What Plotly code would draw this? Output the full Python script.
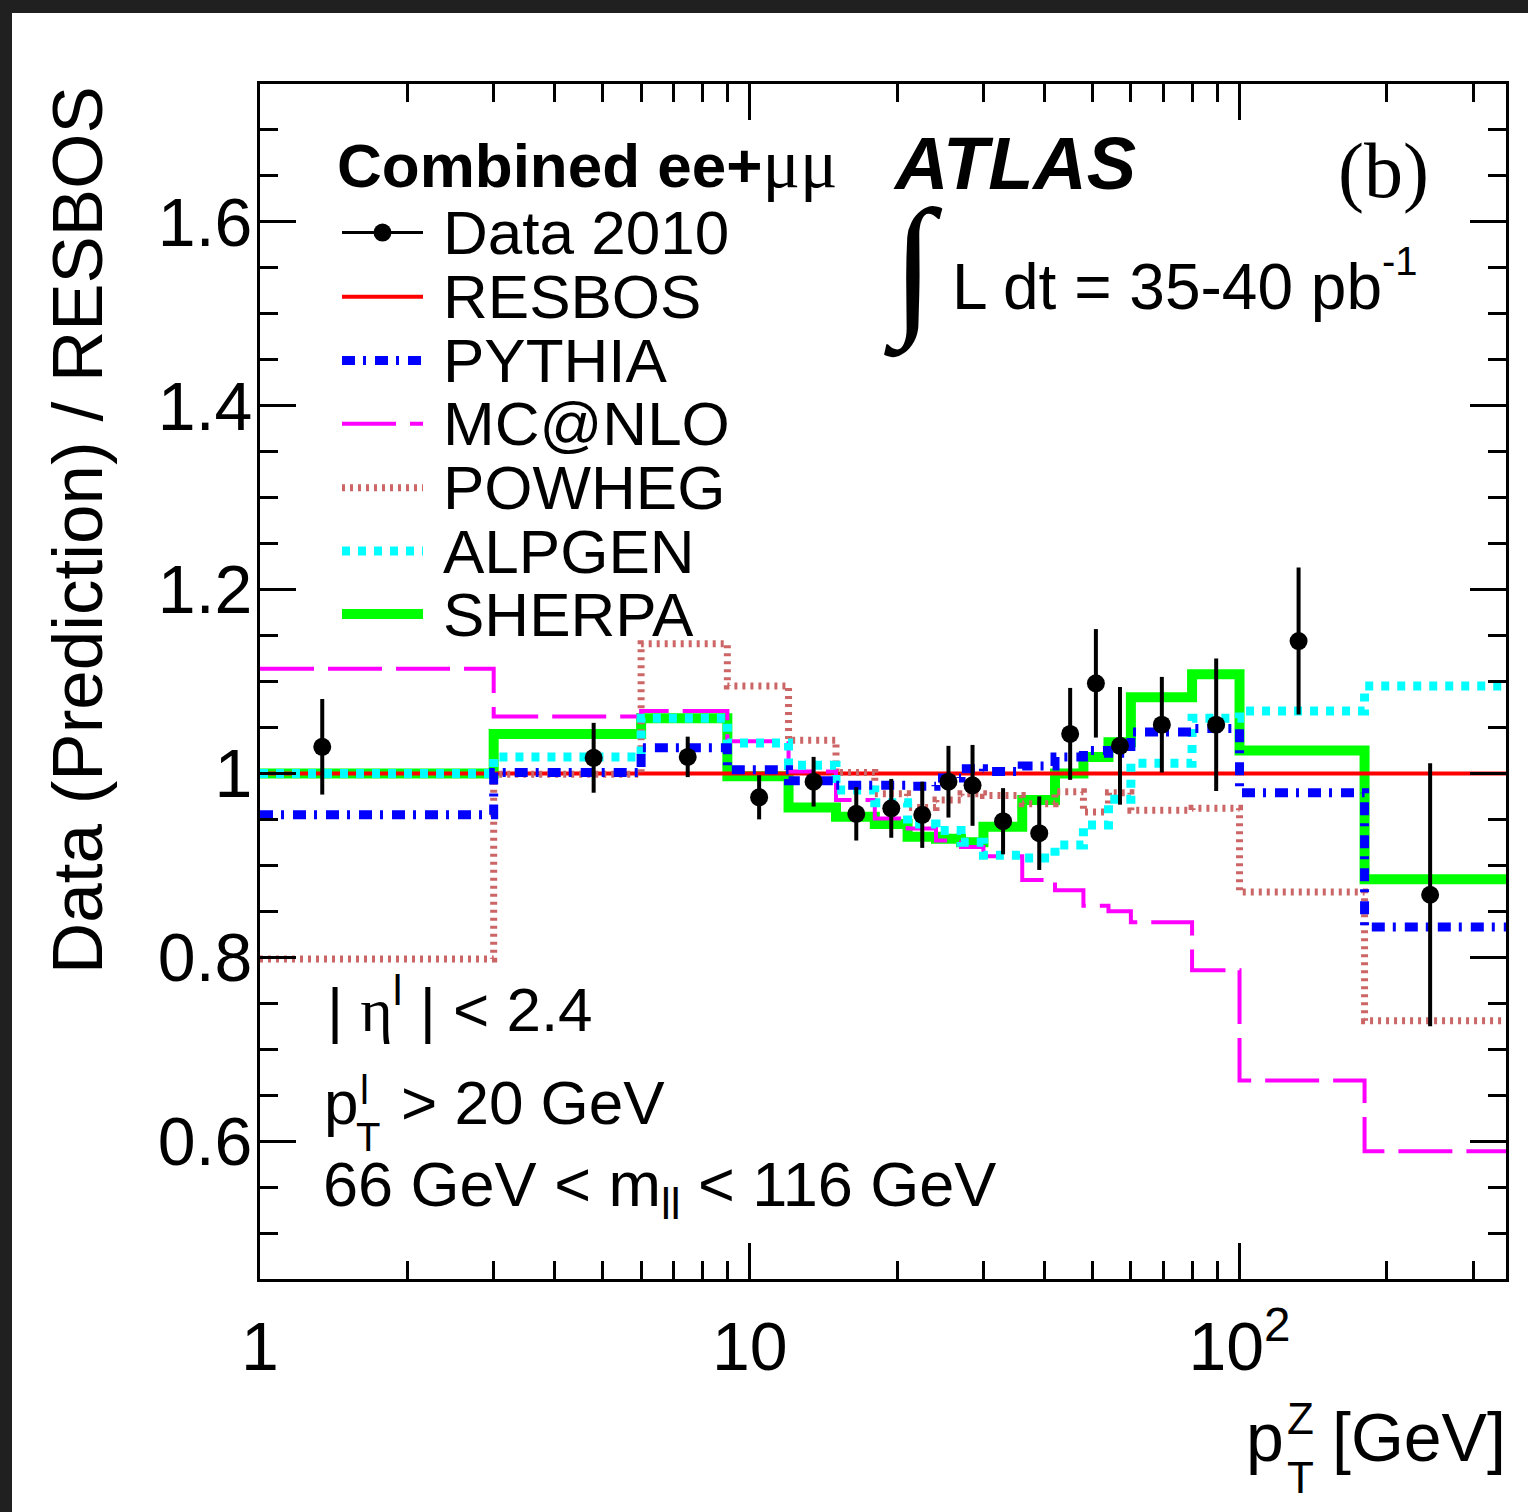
import math
import plotly.graph_objects as go

# ---------------------------------------------------------------------------
# Z-boson transverse momentum: ratio of predictions and data to RESBOS
# ---------------------------------------------------------------------------
bin_edges = [0, 3, 6, 9, 12, 15, 18, 21, 24, 27, 30, 36, 42, 48, 54, 60, 80, 100, 180, 350]

resbos = [1.0, 1.0, 1.0, 1.0, 1.0, 1.0, 1.0, 1.0, 1.0, 1.0,
          1.0, 1.0, 1.0, 1.0, 1.0, 1.0, 1.0, 1.0, 1.0]
pythia = [0.955, 1.001, 1.028, 1.004, 0.992, 0.987, 0.987, 0.986, 0.995, 1.005,
          1.002, 1.008, 1.018, 1.025, 1.022, 1.045, 1.049, 0.979, 0.833]
mcatnlo = [1.114, 1.062, 1.068, 1.035, 1.002, 0.971, 0.951, 0.940, 0.927, 0.920,
           0.910, 0.884, 0.873, 0.856, 0.850, 0.838, 0.786, 0.666, 0.589]
powheg = [0.798, 0.999, 1.141, 1.095, 1.036, 1.001, 0.978, 0.963, 0.971, 0.978,
          0.976, 0.967, 0.980, 0.958, 0.979, 0.960, 0.962, 0.871, 0.731]
alpgen = [1.000, 1.018, 1.060, 1.033, 1.009, 0.982, 0.968, 0.945, 0.938, 0.925,
          0.911, 0.908, 0.922, 0.944, 0.972, 1.011, 1.060, 1.068, 1.095]
sherpa = [1.000, 1.043, 1.060, 0.997, 0.963, 0.953, 0.945, 0.931, 0.929, 0.925,
          0.942, 0.971, 1.000, 1.018, 1.034, 1.083, 1.108, 1.025, 0.885]

data_pt = [1.34, 4.8, 7.47, 10.45, 13.5, 16.5, 19.45, 22.5, 25.45, 28.5,
           32.9, 39.0, 45.1, 50.9, 57.0, 69.4, 89.6, 132.0, 245.0]
data_ratio = [1.029, 1.017, 1.018, 0.974, 0.991, 0.956, 0.962, 0.955, 0.991, 0.987,
              0.948, 0.935, 1.043, 1.098, 1.030, 1.053, 1.053, 1.144, 0.868]
data_err = [0.052, 0.038, 0.022, 0.024, 0.027, 0.029, 0.032, 0.036, 0.039, 0.044,
            0.036, 0.040, 0.050, 0.059, 0.064, 0.052, 0.072, 0.080, 0.143]

x_range = [1, 350]
y_range = [0.45, 1.75]
y_tick_vals = [0.6, 0.8, 1.0, 1.2, 1.4, 1.6]
y_tick_text = ["0.6", "0.8", "1", "1.2", "1.4", "1.6"]
x_tick_vals = [1, 10, 100]
x_tick_text = ["1", "10", "10<sup>2</sup>"]
x_minor_vals = [2, 3, 4, 5, 6, 7, 8, 9, 20, 30, 40, 50, 60, 70, 80, 90, 200, 300]

# ---------------------------------------------------------------------------
W, H = 1528, 1512
L, R, T, B = 260, 1506, 84, 1279  # frame in page pixels
SANS = "Liberation Sans"
SERIF = "Liberation Serif"


def px(x):
    return (x - L) / (R - L)


def py(y):
    return (B - y) / (B - T)


# style of each prediction: (name, values, colour, width, dash)
models = [
    ("SHERPA", sherpa, "#00ff00", 10, "solid"),
    ("RESBOS", resbos, "#ff0000", 4, "solid"),
    ("POWHEG", powheg, "#cc6666", 7, "3px,5px"),
    ("MC@NLO", mcatnlo, "#ff00ff", 4, "54px,14px"),
    ("ALPGEN", alpgen, "#00ffff", 9, "8px,8px"),
    ("PYTHIA", pythia, "#0000ff", 9, "13px,8px,3px,9px"),
]

fig = go.Figure()

step_x = [max(e, x_range[0]) for e in bin_edges]
for name, vals, col, wid, dash in models:
    fig.add_trace(go.Scatter(
        x=step_x, y=list(vals) + [vals[-1]], mode="lines", line_shape="hv",
        line=dict(color=col, width=wid, dash=dash), name=name, hoverinfo="skip",
    ))

fig.add_trace(go.Scatter(
    x=data_pt, y=data_ratio, mode="markers", name="Data 2010",
    marker=dict(color="black", size=18, symbol="circle"),
    error_y=dict(type="data", array=data_err, visible=True,
                 color="black", thickness=4, width=0),
))

axis_common = dict(
    showline=True, linecolor="black", linewidth=3, mirror="allticks",
    ticks="inside", ticklen=36, tickwidth=2.5, tickcolor="black",
    showgrid=False, zeroline=False,
    tickfont=dict(family=SANS, size=68, color="black"),
)

fig.update_xaxes(
    type="log", range=[math.log10(x_range[0]), math.log10(x_range[1])],
    tickmode="array", tickvals=x_tick_vals, ticktext=x_tick_text,
    ticklabelstandoff=6,
    minor=dict(tickmode="array", tickvals=x_minor_vals, ticks="inside",
               ticklen=18, tickwidth=2.5, tickcolor="black", showgrid=False),
    **axis_common,
)
fig.update_yaxes(
    range=y_range, tickmode="array", tickvals=y_tick_vals, ticktext=y_tick_text,
    ticklabelstandoff=-9,
    minor=dict(tickmode="linear", tick0=0, dtick=0.05, ticks="inside",
               ticklen=18, tickwidth=2.5, tickcolor="black", showgrid=False),
    **axis_common,
)

shapes = []
# white page inside a dark border
shapes.append(dict(type="rect", xref="paper", yref="paper", layer="below",
                   x0=px(12), x1=px(W), y0=py(H), y1=py(13),
                   fillcolor="white", line=dict(width=0)))

annotations = []


def text(s, x, y, size, xanchor="left", yanchor="middle", family=SANS, angle=0):
    annotations.append(dict(
        text=s, x=px(x), y=py(y), xref="paper", yref="paper", showarrow=False,
        xanchor=xanchor, yanchor=yanchor, textangle=angle,
        font=dict(family=family, size=size, color="black"),
    ))


# legend
leg_x0, leg_x1, leg_text_x = 342, 423, 441
legend_rows = [
    ("Data 2010", 232.6, None),
    ("RESBOS", 296.7, ("#ff0000", 4, "solid")),
    ("PYTHIA", 360.4, ("#0000ff", 9, "13px,8px,3px,9px")),
    ("MC@NLO", 423.7, ("#ff00ff", 4, "54px,14px")),
    ("POWHEG", 487.8, ("#cc6666", 7, "3px,5px")),
    ("ALPGEN", 551.0, ("#00ffff", 9, "8px,8px")),
    ("SHERPA", 614.0, ("#00ff00", 10, "solid")),
]
for label, yc, sty in legend_rows:
    if sty is None:
        shapes.append(dict(type="line", xref="paper", yref="paper",
                           x0=px(leg_x0), x1=px(leg_x1), y0=py(yc), y1=py(yc),
                           line=dict(color="black", width=3)))
        xm = (leg_x0 + leg_x1) / 2
        shapes.append(dict(type="circle", xref="paper", yref="paper",
                           x0=px(xm - 9), x1=px(xm + 9),
                           y0=py(yc + 9), y1=py(yc - 9),
                           fillcolor="black", line=dict(color="black", width=0)))
    else:
        col, wid, dash = sty
        shapes.append(dict(type="line", xref="paper", yref="paper",
                           x0=px(leg_x0), x1=px(leg_x1), y0=py(yc), y1=py(yc),
                           line=dict(color=col, width=wid, dash=dash)))
    text(label, leg_text_x, yc, 62)

text("<b>Combined ee+</b><span style='font-family:Liberation Serif;font-size:70px'>μμ</span>",
     335, 164, 62)

# experiment label and luminosity
annotations.append(dict(
    text="<b><i>ATLAS</i></b>", x=px(891), y=py(163), xref="paper", yref="paper",
    showarrow=False, xanchor="left", yanchor="middle",
    font=dict(family=SANS, size=74, color="black"),
))
text("(b)", 1336, 170, 78, family=SERIF)
text("∫", 882, 268, 154, family=SERIF)
text("L dt = 35-40 pb", 950, 287, 64)
text("-1", 1380, 261, 40)

# selection cuts
text("| <span style='font-family:Liberation Serif'>η</span><sup>l</sup> | < 2.4", 325, 1005, 62)
text("p", 322, 1102, 62)
text("l", 358, 1090, 40)
text("T", 354, 1137, 40)
text("> 20 GeV", 399, 1102, 62)
text("66 GeV < m<sub>ll</sub> < 116 GeV", 321, 1188, 63)

# axis titles
text("Data (Prediction) / RESBOS", 77, 84, 71, xanchor="center", yanchor="top", angle=-90)
text("[GeV]", 1508, 1437, 68, xanchor="right")
text("p", 1244, 1437, 68)
text("Z", 1285, 1418, 44)
text("T", 1285, 1477, 44)

fig.update_layout(
    width=W, height=H,
    margin=dict(l=L, r=W - R, t=T, b=H - B, pad=0, autoexpand=False),
    paper_bgcolor="#202020", plot_bgcolor="white",
    showlegend=False,
    shapes=shapes, annotations=annotations,
    font=dict(family=SANS, color="black"),
)

fig.write_html("out.html")
